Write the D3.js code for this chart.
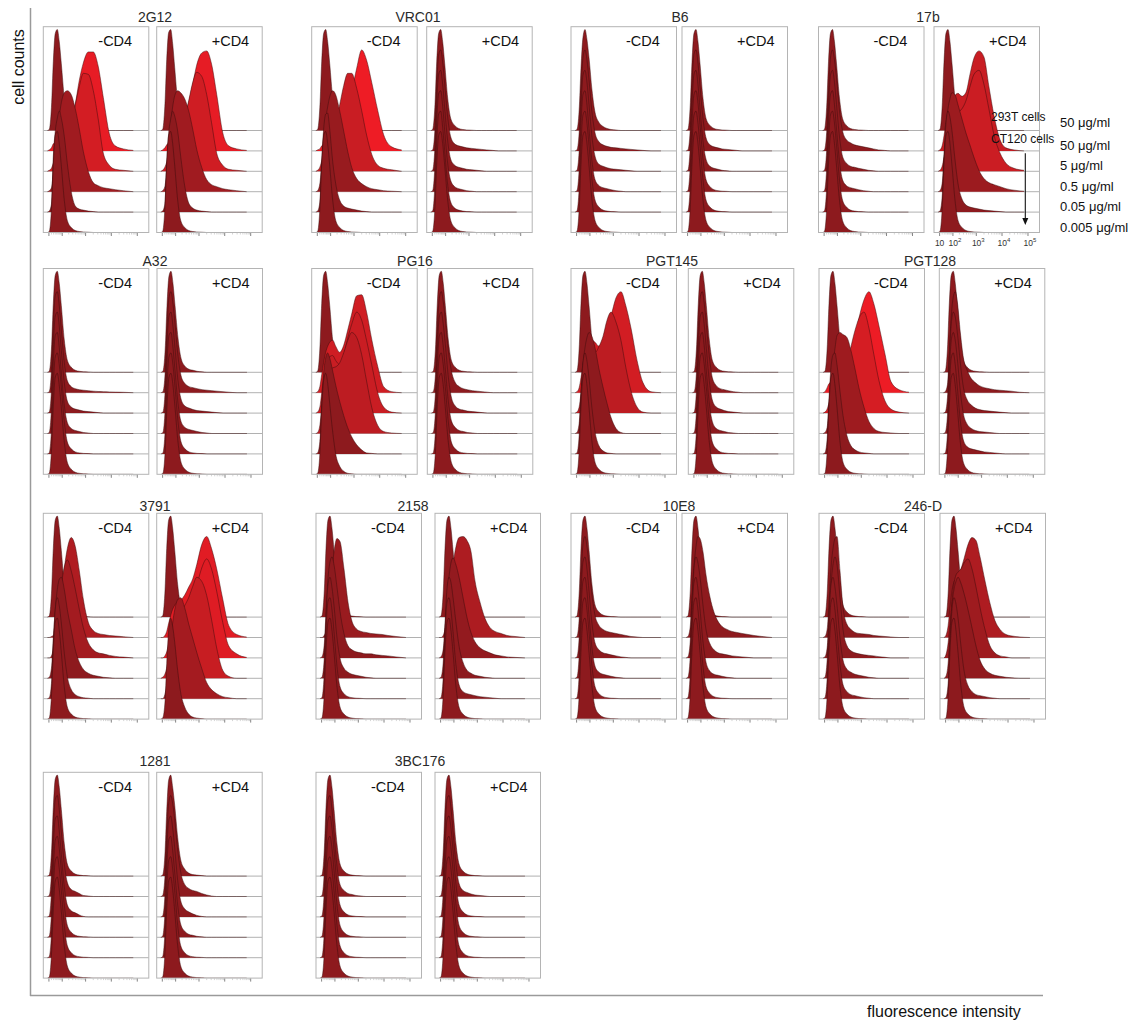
<!DOCTYPE html>
<html>
<head>
<meta charset="utf-8">
<script src="https://cdn.jsdelivr.net/npm/d3@7"></script>
<style>
  body { margin: 0; background: #fff; }
  svg text { font-family: "Liberation Sans", Arial, Helvetica, sans-serif; }
</style>
</head>
<body>
<svg id="chart" width="1135" height="1026"></svg>
<script>
// ---------------------------------------------------------------------------
// Data: flow cytometry staining histograms (% of mode) for each antibody,
// without (-CD4) and with (+CD4) soluble CD4, six samples per panel.
// ---------------------------------------------------------------------------
const antibodies = ["2G12", "VRC01", "B6", "17b", "A32", "PG16", "PGT145", "PGT128",
                    "3791", "2158", "10E8", "246-D", "1281", "3BC176"];
const treatments = ["-CD4", "+CD4"];
const cellLines = ["293T cells", "CT120 cells", "CT120 cells", "CT120 cells", "CT120 cells", "CT120 cells"];
const concentrations = ["50", "50", "5", "0.5", "0.05", "0.005"]; // μg/ml
// fluorescence channel values at which the histogram heights are given
const intensity = [5, 11, 20, 29, 40, 54, 70, 90, 126, 174, 260, 384, 560, 810,
                   1280, 2000, 3100, 4900, 8400, 14200, 29000, 70000];
const axisTicks = [10, 100, 1000, 10000, 100000];

// unstained-like narrow peak shared by many samples
const neg = [0,1,23,68,96,100,88,66,32,12,5,2,1,0.5,0.3,0,0,0,0,0,0,0];

const minus_2G12 = [neg,
  [0,1,3,7,8,8,9,11,15,22,33,47,70,87,98,98,84,53,17,5,2,0.5],
  [0,1,3,8,12,14,16,20,26,34,48,66,84,97,96,80,52,18,6,2,1,0],
  [0,1,4,20,45,62,75,88,98,100,96,82,62,40,20,9,6,4,3,2,1,0],
  [0,1,8,55,80,93,100,93,75,48,20,6,3,2,1,0.5,0,0,0,0,0,0],
  neg];
const plus_2G12 = [
  [0,1,24,70,97,100,86,62,28,10,4,2,1,0.5,0.3,0,0,0,0,0,0,0],
  [0,1,3,6,8,9,11,13,17,24,35,48,66,85,97,99,86,56,18,5,2,0.5],
  [0,1,4,9,14,17,20,24,30,38,52,70,88,98,94,76,48,18,6,2,1,0],
  [0,1,5,22,48,68,84,95,100,98,92,80,62,42,24,12,7,5,3,2,1,0],
  [0,1,8,50,78,92,100,95,80,55,26,9,4,2,1,0.5,0,0,0,0,0,0],
  neg];

const minus_VRC01 = [neg,
  [0,1,2,5,6,6,7,8,10,13,18,25,40,58,82,100,90,68,40,16,4,1],
  [0,1,4,10,14,18,22,28,38,50,66,85,97,97,82,60,36,17,6,3,1.5,0],
  [0,1,8,28,55,72,84,94,100,96,80,60,40,24,13,8,5,3,2,1,0.5,0],
  [0,1,10,50,82,97,98,82,50,28,12,6,4,3,2,1,0.5,0,0,0,0,0],
  neg];
const plus_VRC01 = [neg,
  [0,1,20,65,95,100,88,66,33,14,7,5,4,3,2.5,2,1.5,1,0.5,0,0,0],
  [0,1,22,68,96,100,86,62,30,12,6,4,3,2,1.5,1,0.5,0,0,0,0,0],
  [0,1,24,70,97,100,85,60,28,11,5,3,2,1,0.5,0,0,0,0,0,0,0],
  [0,1,25,70,97,100,84,60,27,10,4,2,1,0.5,0.3,0,0,0,0,0,0,0],
  neg];

const minus_B6 = [
  [0,1,20,62,92,100,90,72,40,18,8,4,2,1,0.5,0,0,0,0,0,0,0],
  [0,1,18,60,92,100,90,70,38,18,9,6,4.5,3.5,3,2.5,2,1.5,1,0.5,0,0],
  [0,1,20,64,95,100,88,66,34,15,7,5,3.5,2.5,2,1.5,1,0.5,0,0,0,0],
  [0,1,22,68,96,100,86,62,30,12,6,4,3,2,1,0.5,0,0,0,0,0,0],
  neg, neg];
const plus_B6 = [neg,
  [0,1,20,66,96,100,87,64,32,13,6,4,3,2,1.5,1,0.5,0,0,0,0,0],
  [0,1,22,68,96,100,86,62,30,12,5,3,2,1,0.5,0,0,0,0,0,0,0],
  neg, neg, neg];

const minus_17b = [neg,
  [0,1,18,60,92,100,90,72,40,20,11,8,6,5,4,3,2,1,0.5,0,0,0],
  [0,1,20,64,95,100,88,66,34,15,8,5,4,3,2,1,0.5,0,0,0,0,0],
  [0,1,22,68,96,100,86,62,30,12,6,4,3,2,1,0.5,0,0,0,0,0,0],
  neg, neg];
const plus_17b = [neg,
  [0,1,5,15,28,38,45,50,55,57,54,58,76,92,99,93,64,35,11,3,1,0],
  [0,1,5,14,25,35,42,48,54,58,62,70,84,96,100,86,62,36,18,8,3,1],
  [0,1,8,35,62,82,92,98,96,86,72,58,46,34,21,13,9,7,5,3,1.5,0.5],
  [0,1,15,55,88,100,94,80,52,28,13,7,5,4,3,2,1.5,1,0.5,0,0,0],
  neg];

const minus_A32 = [neg,
  [0,1,22,68,96,100,86,62,30,12,6,4,3,2.5,2,1.5,1.2,1,0.8,0.6,0.4,0],
  [0,1,22,68,96,100,86,62,30,12,6,4,3,2,1.5,1,0.5,0,0,0,0,0],
  [0,1,24,70,97,100,85,60,28,11,5,3,2,1,0.5,0,0,0,0,0,0,0],
  neg, neg];
const plus_A32 = [
  [0,1,22,66,95,100,88,66,34,14,6,3,2,1,0.5,0,0,0,0,0,0,0],
  [0,1,20,64,94,100,88,68,36,17,9,6,5,4,3,2.5,2,1.5,1,0.5,0,0],
  [0,1,22,68,96,100,86,64,32,14,7,5,3.5,2.5,2,1.5,1,0.5,0,0,0,0],
  [0,1,24,70,97,100,85,62,30,12,6,4,3,2,1,0.5,0,0,0,0,0,0],
  neg, neg];

const minus_PG16 = [neg,
  [0,1,6,18,30,40,46,50,52,46,40,47,62,78,96,97,80,53,26,6,1,0],
  [0,1,6,20,34,44,52,56,57,52,48,57,74,88,100,92,72,48,20,6,1,0],
  [0,1,8,25,42,52,58,62,65,66,70,80,92,100,95,78,52,26,8,2,0.5,0],
  [0,1,12,50,80,95,100,95,82,68,52,38,26,17,9,4,1,0.5,0,0,0,0],
  [0,1,20,65,93,100,90,70,42,20,8,3,1,0.5,0,0,0,0,0,0,0,0]];
const plus_PG16 = [neg,
  [0,1,18,62,93,100,90,72,42,22,10,6,4,3,2,1.5,1,0.5,0,0,0,0],
  [0,1,20,64,95,100,88,68,36,16,7,4,3,2,1.5,1,0.5,0,0,0,0,0],
  [0,1,22,68,96,100,86,64,32,13,6,3,2,1,0.5,0,0,0,0,0,0,0],
  neg, neg];

const minus_PGT145 = [neg,
  [0,1,5,15,28,38,45,50,52,50,46,52,64,76,94,100,86,64,32,10,1,0],
  [0,1,6,20,36,50,58,62,62,60,66,76,92,100,90,72,45,22,6,1,0,0],
  [0,1,10,40,68,85,95,100,96,85,64,46,30,16,5,1,0,0,0,0,0,0],
  [0,1,18,60,90,100,92,75,45,22,8,3,1,0.5,0,0,0,0,0,0,0,0],
  neg];
const plus_PGT145 = [neg,
  [0,1,20,64,95,100,88,68,36,15,7,4,3,2,1,0.5,0,0,0,0,0,0],
  [0,1,22,66,96,100,87,64,32,13,6,4,2.5,1.5,1,0.5,0,0,0,0,0,0],
  [0,1,22,68,96,100,86,62,30,12,5,3,2,1,0.5,0,0,0,0,0,0,0],
  neg, neg];

const minus_PGT128 = [neg,
  [0,1,5,9,10,10,11,12,15,20,28,40,55,74,92,100,88,66,38,11,3,0.5],
  [0,1,4,10,14,16,18,22,28,36,48,66,82,94,100,84,58,32,12,4,1,0],
  [0,1,6,30,50,68,84,97,100,98,95,82,64,45,26,12,5,2,1,0.5,0,0],
  [0,1,15,55,85,98,100,88,62,38,18,8,4,2,1,0.5,0,0,0,0,0,0],
  neg];
const plus_PGT128 = [neg,
  [0,1,8,40,75,95,100,90,60,35,22,14,10,7,5,4,3,2.5,2,1.5,0.5,0],
  [0,1,15,55,88,100,95,80,50,26,13,8,5,3.5,2.5,2,1.5,1,0.5,0,0,0],
  [0,1,18,60,92,100,92,74,42,20,9,5,3,2,1.5,1,0.5,0,0,0,0,0],
  [0,1,20,65,95,100,88,66,33,14,7,5,4,3,2,1.5,1,0.5,0,0,0,0],
  neg];

const minus_3791 = [neg,
  [0,0,1,2,5,12,22,38,68,88,99,90,66,38,15,7,4,3,2,1.5,0.8,0],
  [0,0,2,8,20,40,56,72,90,97,86,68,48,30,15,8,5,4,2.5,1.5,0.8,0],
  [0,1,10,40,68,88,98,100,88,68,48,28,16,9,5,3,2,1,0.5,0,0,0],
  [0,1,15,55,88,100,92,75,45,22,9,4,2,1,0.5,0,0,0,0,0,0,0],
  neg];
const plus_3791 = [neg,
  [0,0,2,6,14,22,28,32,35,37,42,50,58,72,92,100,88,68,38,12,3,0.5],
  [0,0,2,6,14,22,30,35,40,44,48,54,62,72,89,98,88,66,35,12,4,0.5],
  [0,1,4,10,20,32,42,50,58,65,72,80,91,100,96,82,58,30,8,2,0,0],
  [0,0,4,14,30,55,75,88,98,100,90,74,60,46,30,16,9,5,2,1,0,0],
  [0,1,15,55,88,100,92,76,48,26,12,5,2,1,0.5,0,0,0,0,0,0,0]];

const minus_2158 = [neg,
  [0,0,2,6,22,42,65,85,98,95,68,35,16,9,6,5,4,3.5,3,2,1,0],
  [0,1,12,45,78,95,100,92,70,46,24,12,8,6,5,4,4,3,2.5,2,1,0],
  [0,1,18,60,92,100,90,72,40,20,10,6,4,3,2,1,0.5,0,0,0,0,0],
  neg, neg];
const plus_2158 = [neg,
  [0,0,2,8,18,35,55,72,90,99,100,96,85,56,35,19,10,6,4,2,1,0],
  [0,1,8,30,58,80,94,99,92,80,60,40,25,16,10,7,5,3,2,1,0.5,0],
  [0,1,15,55,88,100,95,80,55,32,16,8,5,3,2,1,0.5,0,0,0,0,0],
  [0,1,20,65,95,100,88,66,33,14,7,5,4,3,2,1.5,1,0.5,0,0,0,0],
  neg];

const minus_10E8 = [neg,
  [0,1,18,60,92,100,90,72,42,22,12,8,6,5,4,3,2,1,0.5,0,0,0],
  [0,1,20,64,95,100,88,66,34,15,8,5,4,3,2,1,0.5,0,0,0,0,0],
  [0,1,22,68,96,100,86,62,30,12,6,4,3,2,1,0.5,0,0,0,0,0,0],
  neg, neg];
const plus_10E8 = [neg,
  [0,1,10,40,70,90,100,98,85,62,40,25,16,11,8,6,5,4,3,2,1,0],
  [0,1,15,55,88,100,94,80,52,28,14,8,5,4,3,2,1.5,1,0.5,0,0,0],
  [0,1,20,64,95,100,88,68,36,16,7,4,3,2,1,0.5,0,0,0,0,0,0],
  neg, neg];

const minus_246D = [neg,
  [0,1,8,35,68,88,98,100,66,30,13,8,5,4,3.5,3,2,1.5,1,0.5,0,0],
  [0,1,10,40,72,92,100,92,60,28,12,7,5,4,3,2.5,2,1.2,0.6,0,0,0],
  [0,1,18,60,92,100,90,72,40,18,9,6,4,3,2,1,0.5,0,0,0,0,0],
  [0,1,20,64,95,100,88,66,34,14,7,4,3,2,1,0.5,0,0,0,0,0,0],
  neg];
const plus_246D = [neg,
  [0,2,12,30,46,55,58,62,68,78,92,99,96,80,56,34,17,8,3,1.5,0.5,0],
  [0,3,15,35,58,74,82,85,88,94,98,88,70,50,28,12,5,2,1,0,0,0],
  [0,2,15,45,72,88,96,100,94,84,68,50,32,18,9,5,3,2,1,0.5,0,0],
  [0,1,15,55,88,100,94,80,52,28,13,7,4,3,2,1,0.5,0,0,0,0,0],
  neg];

const minus_1281 = [neg,
  [0,1,22,68,96,100,86,64,32,14,7,5,3,1,0.5,0,0,0,0,0,0,0],
  [0,1,24,70,97,100,85,62,30,12,6,4,2,0.5,0,0,0,0,0,0,0,0],
  neg, neg, neg];
const plus_1281 = [
  [0,1,20,64,95,100,88,70,38,16,7,3,1.5,1,0.5,0,0,0,0,0,0,0],
  [0,1,18,60,92,100,92,76,46,24,12,8,6,5,3,1.5,0.5,0,0,0,0,0],
  [0,1,20,64,95,100,88,68,36,16,8,5,3,1.5,0.5,0,0,0,0,0,0,0],
  [0,1,22,68,96,100,86,64,32,13,6,3,2,1,0.5,0,0,0,0,0,0,0],
  neg, neg];

const minus_3BC176 = [neg,
  [0,1,22,68,96,100,86,62,30,12,6,3,2,1,0.5,0,0,0,0,0,0,0],
  neg, neg, neg, neg];
const plus_3BC176 = [neg,
  [0,1,20,66,96,100,88,64,32,13,6,4,2.5,1.5,1,0.5,0,0,0,0,0,0],
  neg, neg, neg, neg];

// lookup table: antibody -> [-CD4 panel, +CD4 panel]
const histograms = {
  "2G12": [minus_2G12, plus_2G12], "VRC01": [minus_VRC01, plus_VRC01],
  "B6": [minus_B6, plus_B6], "17b": [minus_17b, plus_17b],
  "A32": [minus_A32, plus_A32], "PG16": [minus_PG16, plus_PG16],
  "PGT145": [minus_PGT145, plus_PGT145], "PGT128": [minus_PGT128, plus_PGT128],
  "3791": [minus_3791, plus_3791], "2158": [minus_2158, plus_2158],
  "10E8": [minus_10E8, plus_10E8], "246-D": [minus_246D, plus_246D],
  "1281": [minus_1281, plus_1281], "3BC176": [minus_3BC176, plus_3BC176]
};

// ---------------------------------------------------------------------------
// Layout
// ---------------------------------------------------------------------------
const BOX_W = 105.5, BOX_H = 205.8, STEP = 20.4, PEAK = 101;
const rowTop = [26.7, 268.5, 513.3, 772.3];
const titleY = [21.7, 266, 510.7, 765.7];
// [antibody, row, left of -CD4 box, left of +CD4 box, title centre]
const frames = [
  ["2G12", 0, 43.3, 156.7, 155], ["VRC01", 0, 311.7, 426.7, 418],
  ["B6", 0, 571, 682, 680], ["17b", 0, 818.5, 934, 928],
  ["A32", 1, 43.3, 157, 155], ["PG16", 1, 311.7, 427.3, 415],
  ["PGT145", 1, 571, 688.3, 672], ["PGT128", 1, 819, 939.3, 930],
  ["3791", 2, 43.3, 156.7, 155], ["2158", 2, 316, 435, 413],
  ["10E8", 2, 571, 682, 679], ["246-D", 2, 819, 940, 923],
  ["1281", 3, 43.3, 156.7, 155], ["3BC176", 3, 316, 435, 420]
];

const svg = d3.select("#chart");
const defs = svg.append("defs");

const heightScale = d3.scaleLinear().domain([0, 100]).range([0, PEAK]);
// histogram fill follows the mean position of the staining (dim -> bright red)
const fillScale = d3.scaleLinear().domain([20, 44])
  .range(["#8d1a1e", "#ee1c25"]).interpolate(d3.interpolateLab).clamp(true);

const supDigits = { "1": "", "2": "2", "3": "3", "4": "4", "5": "5" };

let clipCount = 0;
frames.forEach(([ab, row, leftMinus, leftPlus, titleX]) => {
  const top = rowTop[row], bottom = top + BOX_H;

  svg.append("text")
    .attr("x", titleX).attr("y", titleY[row])
    .attr("text-anchor", "middle").attr("font-size", 14).attr("fill", "#2a2a2a")
    .text(ab);

  [leftMinus, leftPlus].forEach((left, t) => {
    const x = d3.scaleSymlog().constant(30).domain([-7, 277000]).range([left, left + BOX_W]);
    const panel = histograms[ab][t];
    const nRows = panel.length;
    const baseline = k => bottom - (nRows - 1 - k) * STEP;

    const clipId = "clip" + (clipCount++);
    defs.append("clipPath").attr("id", clipId)
      .append("rect").attr("x", left).attr("y", top).attr("width", BOX_W).attr("height", BOX_H);

    const g = svg.append("g").attr("clip-path", `url(#${clipId})`);

    // separator lines at each histogram baseline
    d3.range(nRows - 1).forEach(k => {
      g.append("line")
        .attr("x1", left).attr("x2", left + BOX_W)
        .attr("y1", baseline(k)).attr("y2", baseline(k))
        .attr("stroke", "#9d9d9d").attr("stroke-width", 0.8);
    });

    // offset histograms, back (top) to front (bottom)
    panel.forEach((vals, k) => {
      const b = baseline(k);
      const pts = vals.map((v, i) => [x(intensity[i]), b - heightScale(v)]);
      const total = d3.sum(vals);
      const meanOffset = d3.sum(vals, (v, i) => v * (x(intensity[i]) - left)) / total;

      g.append("path")
        .attr("d", d3.area().x(d => d[0]).y0(b).y1(d => d[1]).curve(d3.curveMonotoneX)(pts))
        .attr("fill", fillScale(meanOffset));
      g.append("path")
        .attr("d", d3.line().x(d => d[0]).y(d => d[1]).curve(d3.curveMonotoneX)(pts))
        .attr("fill", "none").attr("stroke", "#3c0c0d")
        .attr("stroke-width", 0.6).attr("stroke-opacity", 0.8);
    });

    // panel frame
    svg.append("rect")
      .attr("x", left).attr("y", top).attr("width", BOX_W).attr("height", BOX_H)
      .attr("fill", "none").attr("stroke", "#b4b4b4").attr("stroke-width", 1);

    // intensity ticks below the frame
    const axisG = svg.append("g");
    axisTicks.forEach(v => {
      axisG.append("line")
        .attr("x1", x(v)).attr("x2", x(v)).attr("y1", bottom + 0.5).attr("y2", bottom + 3.5)
        .attr("stroke", "#666").attr("stroke-width", 0.8);
    });
    axisTicks.slice(0, -1).forEach(v => {
      d3.range(2, 10).forEach(m => {
        axisG.append("line")
          .attr("x1", x(v * m)).attr("x2", x(v * m)).attr("y1", bottom + 0.5).attr("y2", bottom + 2)
          .attr("stroke", "#aaa").attr("stroke-width", 0.5);
      });
    });

    // treatment label
    svg.append("text")
      .attr("x", left + 55).attr("y", top + 19.5)
      .attr("font-size", 14.5).attr("fill", "#111")
      .text(treatments[t]);

    // axis labels and sample legend next to the 17b +CD4 panel
    if (ab === "17b" && t === 1) {
      axisTicks.forEach(v => {
        const exp = String(Math.round(Math.log10(v)));
        const lab = axisG.append("text")
          .attr("x", x(v) + (exp === "1" ? 0 : 2)).attr("y", bottom + 13)
          .attr("text-anchor", "middle").attr("font-size", 8.5).attr("fill", "#333");
        lab.append("tspan").text("10");
        if (supDigits[exp]) {
          lab.append("tspan").attr("dy", -3.5).attr("font-size", 6).text(supDigits[exp]);
        }
      });

      const legendX = left + 57;
      svg.append("text").attr("x", legendX).attr("y", 120.7)
        .attr("font-size", 12).attr("fill", "#111").text(cellLines[0]);
      svg.append("text").attr("x", legendX).attr("y", 143.3)
        .attr("font-size", 12).attr("fill", "#111").text(cellLines[1]);

      const arrowX = left + 91.3;
      svg.append("line")
        .attr("x1", arrowX).attr("x2", arrowX).attr("y1", 153.3).attr("y2", 219)
        .attr("stroke", "#111").attr("stroke-width", 1.1);
      svg.append("path")
        .attr("d", `M${arrowX - 3},218 L${arrowX + 3},218 L${arrowX},225 Z`)
        .attr("fill", "#111");

      concentrations.forEach((c, k) => {
        svg.append("text")
          .attr("x", 1060).attr("y", baseline(k) - (k === 0 ? 3.5 : 1))
          .attr("font-size", 13).attr("fill", "#111")
          .text(`${c} μg/ml`);
      });
    }
  });
});

// outer axes of the whole figure
svg.append("line").attr("x1", 30.5).attr("x2", 30.5).attr("y1", 8).attr("y2", 996)
  .attr("stroke", "#9a9a9a").attr("stroke-width", 1.5);
svg.append("line").attr("x1", 30).attr("x2", 1043).attr("y1", 995.5).attr("y2", 995.5)
  .attr("stroke", "#9a9a9a").attr("stroke-width", 1.5);

svg.append("text")
  .attr("transform", "translate(24,67) rotate(-90)")
  .attr("text-anchor", "middle").attr("font-size", 16).attr("fill", "#111")
  .text("cell counts");
svg.append("text")
  .attr("x", 867).attr("y", 1017)
  .attr("font-size", 16).attr("fill", "#111")
  .text("fluorescence intensity");
</script>
</body>
</html>
